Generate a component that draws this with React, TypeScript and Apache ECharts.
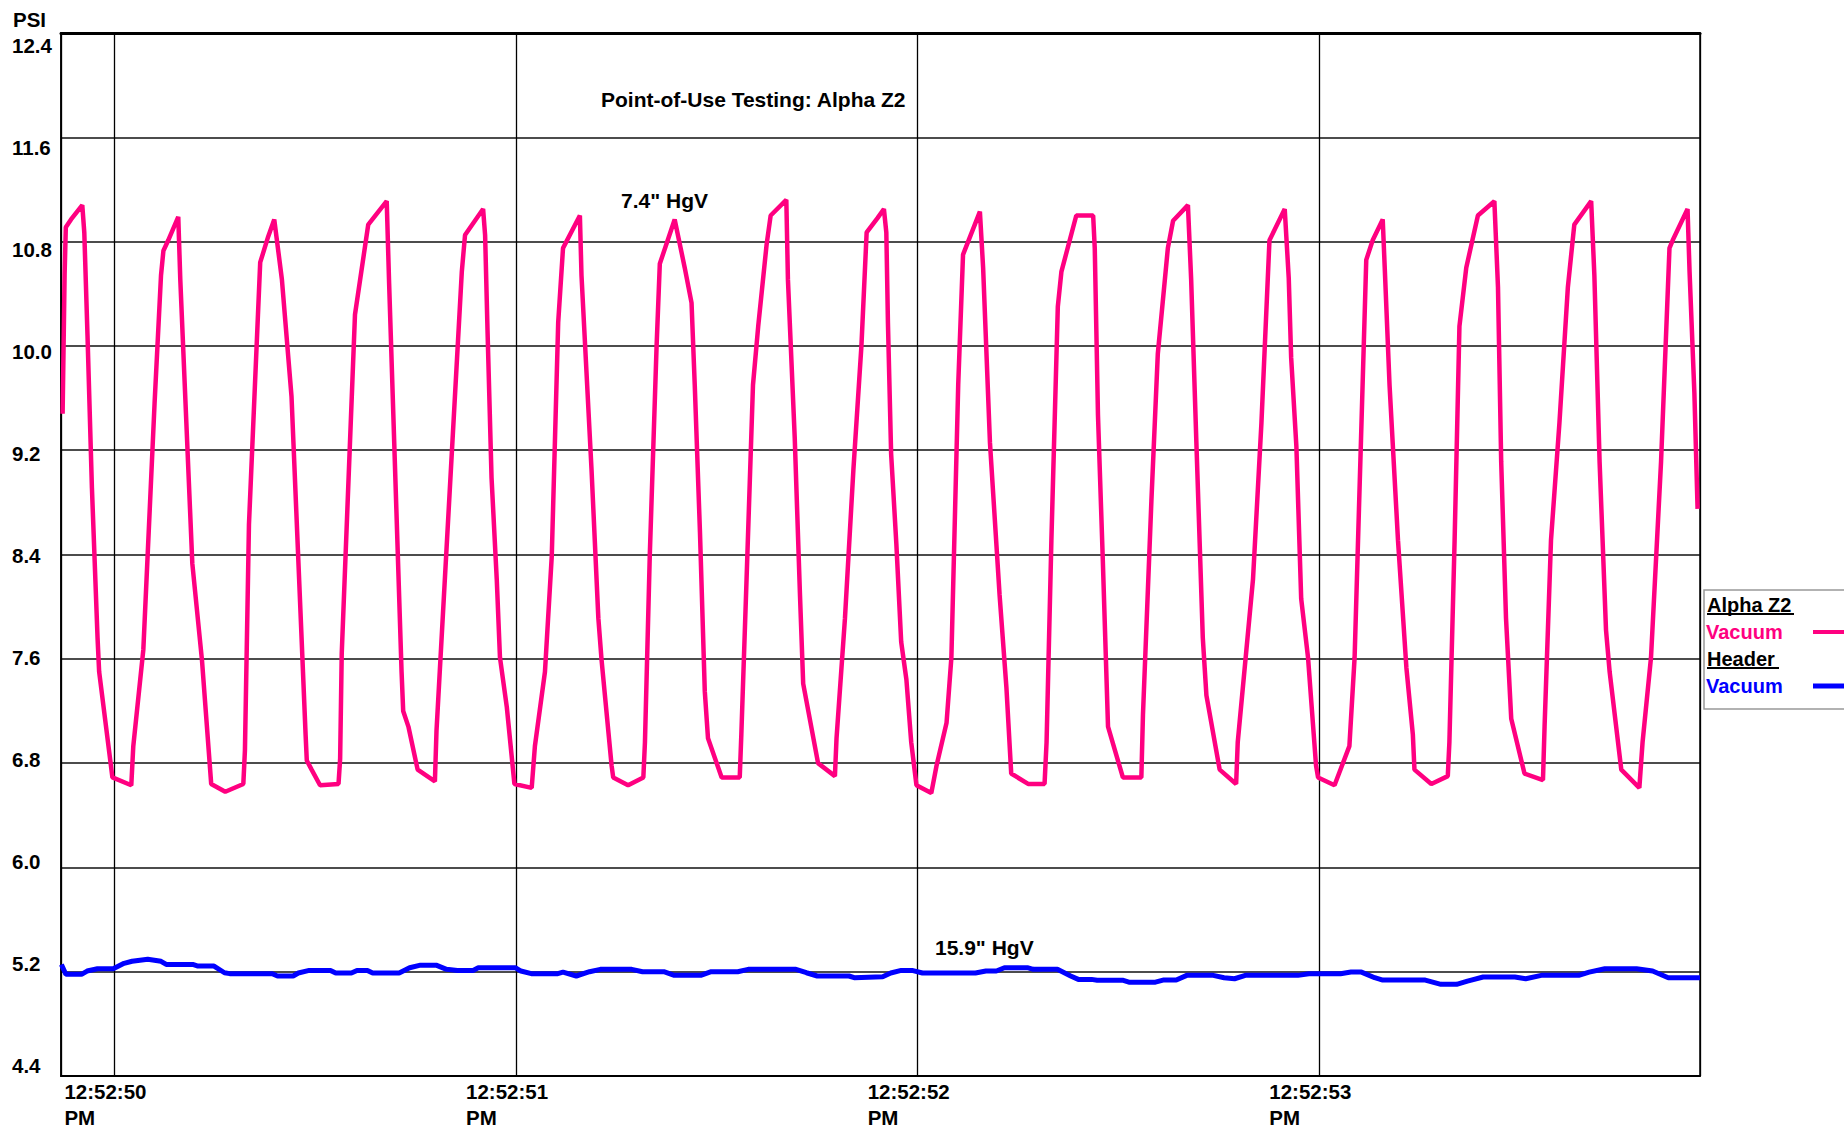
import React, { useEffect, useRef } from 'react';
import * as echarts from 'echarts';

// ---- Data ----
const yTicks = [4.4, 5.2, 6.0, 6.8, 7.6, 8.4, 9.2, 10.0, 10.8, 11.6, 12.4];
const timePrefix = '12:52:';
const timeSuffix = 'PM';
const xMin = 49.867;
const xMax = 53.948;

// Alpha Z2 Vacuum (PSI) — time in seconds after 12:52:00 PM
const alphaT = [
  49.871, 49.876, 49.879, 49.892, 49.920, 49.925, 49.933, 49.944, 49.958, 49.962, 49.995,
  50.042, 50.047, 50.072, 50.100, 50.116, 50.122, 50.134, 50.159, 50.164, 50.194, 50.218, 50.241,
  50.276, 50.321, 50.325, 50.335, 50.363, 50.383, 50.398, 50.417, 50.441, 50.476, 50.479, 50.491,
  50.512, 50.558, 50.562, 50.566, 50.599, 50.632, 50.678, 50.684, 50.715, 50.719, 50.732, 50.755,
  50.798, 50.802, 50.865, 50.873, 50.918, 50.923, 50.929, 50.939, 50.952, 50.960, 50.977, 50.996,
  51.039, 51.047, 51.072, 51.089, 51.105, 51.117, 51.159, 51.163, 51.188, 51.205, 51.213, 51.238,
  51.242, 51.279, 51.317, 51.321, 51.333, 51.350, 51.358, 51.395, 51.420, 51.437, 51.445, 51.458,
  51.470, 51.478, 51.512, 51.557, 51.561, 51.574, 51.590, 51.603, 51.624, 51.634, 51.673, 51.677,
  51.694, 51.707, 51.715, 51.752, 51.794, 51.798, 51.819, 51.840, 51.860, 51.873, 51.900, 51.916,
  51.922, 51.926, 51.934, 51.947, 51.959, 51.972, 51.984, 51.997, 52.034, 52.047, 52.072, 52.084,
  52.101, 52.113, 52.155, 52.163, 52.180, 52.204, 52.221, 52.233, 52.275, 52.316, 52.321, 52.333,
  52.349, 52.358, 52.395, 52.437, 52.441, 52.449, 52.461, 52.474, 52.511, 52.557, 52.561, 52.582,
  52.598, 52.623, 52.636, 52.673, 52.681, 52.694, 52.710, 52.719, 52.752, 52.793, 52.797, 52.835,
  52.856, 52.876, 52.914, 52.924, 52.930, 52.943, 52.955, 52.972, 52.992, 52.997, 53.038, 53.075,
  53.088, 53.104, 53.117, 53.133, 53.158, 53.163, 53.175, 53.196, 53.217, 53.233, 53.237, 53.279,
  53.320, 53.324, 53.337, 53.349, 53.366, 53.395, 53.436, 53.445, 53.453, 53.465, 53.478, 53.511,
  53.557, 53.561, 53.577, 53.598, 53.619, 53.635, 53.677, 53.685, 53.698, 53.714, 53.723, 53.752,
  53.797, 53.805, 53.826, 53.851, 53.872, 53.880, 53.917, 53.922, 53.934, 53.942,
];
const alphaV = [
  9.48, 10.55, 10.91, 10.97, 11.08, 10.87, 10.08, 8.91, 7.76, 7.50, 6.69,
  6.63, 6.93, 7.67, 9.56, 10.54, 10.73, 10.81, 10.99, 10.51, 8.33, 7.59, 6.64,
  6.58, 6.64, 6.90, 8.63, 10.64, 10.84, 10.97, 10.51, 9.61, 7.02, 6.82, 6.75,
  6.63, 6.64, 6.83, 7.64, 10.24, 10.93, 11.11, 10.48, 7.50, 7.20, 7.08, 6.75,
  6.66, 7.05, 10.57, 10.85, 11.05, 10.85, 10.12, 8.99, 8.21, 7.61, 7.23, 6.64,
  6.61, 6.93, 7.50, 8.39, 10.18, 10.75, 11.00, 10.54, 9.05, 7.91, 7.59, 6.78,
  6.69, 6.63, 6.69, 6.96, 8.39, 10.00, 10.63, 10.97, 10.60, 10.33, 9.70, 8.57,
  7.35, 6.99, 6.69, 6.69, 7.02, 8.21, 9.70, 10.15, 10.78, 11.00, 11.12, 10.51,
  9.29, 8.09, 7.41, 6.80, 6.70, 6.99, 7.91, 9.05, 10.00, 10.87, 10.98, 11.05,
  10.87, 10.18, 9.17, 8.48, 7.73, 7.44, 6.96, 6.63, 6.57, 6.78, 7.11, 7.61,
  9.70, 10.70, 11.03, 10.60, 9.26, 8.09, 7.38, 6.72, 6.64, 6.64, 6.96, 8.51,
  10.30, 10.57, 11.00, 11.00, 10.75, 9.47, 8.36, 7.08, 6.69, 6.69, 7.17, 8.81,
  9.94, 10.75, 10.96, 11.08, 10.51, 9.26, 7.76, 7.32, 6.75, 6.64, 6.96, 8.21,
  9.41, 10.81, 11.05, 10.52, 9.91, 9.23, 8.06, 7.61, 6.78, 6.69, 6.63, 6.93,
  7.61, 9.29, 10.66, 10.81, 10.97, 10.60, 9.70, 8.51, 7.53, 7.02, 6.75, 6.64,
  6.70, 6.96, 8.51, 10.15, 10.60, 11.00, 11.11, 10.45, 9.11, 7.91, 7.14, 6.72,
  6.67, 7.08, 8.51, 9.41, 10.45, 10.93, 11.11, 10.54, 9.11, 7.82, 7.50, 6.75,
  6.61, 6.96, 7.61, 9.11, 10.75, 10.81, 11.05, 10.57, 9.64, 8.75,
];

// Header Vacuum (PSI)
const headerT = [
  49.868, 49.879, 49.918, 49.932, 49.958, 49.997, 50.024, 50.044, 50.083, 50.116, 50.129,
  50.195, 50.208, 50.248, 50.274, 50.287, 50.393, 50.406, 50.445, 50.458, 50.485, 50.538,
  50.551, 50.590, 50.604, 50.630, 50.643, 50.709, 50.735, 50.762, 50.801, 50.827, 50.854,
  50.893, 50.906, 50.999, 51.012, 51.038, 51.104, 51.117, 51.150, 51.183, 51.210, 51.288,
  51.315, 51.368, 51.394, 51.460, 51.486, 51.552, 51.578, 51.697, 51.723, 51.750, 51.829,
  51.842, 51.913, 51.933, 51.959, 51.986, 52.012, 52.144, 52.170, 52.196, 52.216, 52.275,
  52.288, 52.348, 52.381, 52.400, 52.433, 52.447, 52.512, 52.526, 52.592, 52.611, 52.644,
  52.670, 52.736, 52.763, 52.789, 52.816, 52.947, 52.974, 53.053, 53.079, 53.105, 53.138,
  53.158, 53.264, 53.303, 53.342, 53.369, 53.408, 53.487, 53.514, 53.553, 53.646, 53.672,
  53.711, 53.790, 53.830, 53.869, 53.948,
];
const headerV = [
  5.256, 5.180, 5.180, 5.205, 5.223, 5.223, 5.264, 5.280, 5.295, 5.280, 5.256,
  5.256, 5.243, 5.243, 5.192, 5.185, 5.185, 5.167, 5.167, 5.190, 5.210, 5.210,
  5.190, 5.190, 5.210, 5.210, 5.190, 5.190, 5.230, 5.250, 5.250, 5.218, 5.210,
  5.210, 5.230, 5.230, 5.205, 5.185, 5.185, 5.197, 5.167, 5.200, 5.218, 5.218,
  5.200, 5.200, 5.172, 5.172, 5.200, 5.200, 5.218, 5.218, 5.192, 5.167, 5.167,
  5.154, 5.162, 5.190, 5.210, 5.210, 5.190, 5.190, 5.205, 5.205, 5.230, 5.230,
  5.218, 5.218, 5.167, 5.141, 5.141, 5.134, 5.134, 5.120, 5.120, 5.136, 5.136,
  5.172, 5.172, 5.154, 5.146, 5.172, 5.172, 5.185, 5.185, 5.197, 5.197, 5.154,
  5.136, 5.136, 5.103, 5.103, 5.128, 5.159, 5.159, 5.146, 5.172, 5.172, 5.197,
  5.223, 5.223, 5.205, 5.154, 5.154,
];

const PINK = '#FF0080';
const BLUE = '#0000FF';
const FONT = '"Liberation Sans", Arial, Helvetica, sans-serif';

export default function App() {
  const ref = useRef<HTMLDivElement>(null);

  useEffect(() => {
    if (!ref.current) return;
    const chart = echarts.init(ref.current, null, { renderer: 'svg' });

    const txt = (text: string, x: number, y: number, fill = '#000', size = 21) => ({
      type: 'text',
      silent: true,
      style: {
        text, x, y, fill,
        fontSize: size, fontWeight: 'bold', fontFamily: FONT,
        align: 'left', verticalAlign: 'middle',
      },
    });
    const seg = (x1: number, y1: number, x2: number, y2: number, stroke: string, w: number) => ({
      type: 'line',
      silent: true,
      shape: { x1, y1, x2, y2 },
      style: { stroke, lineWidth: w },
    });

    const option: any = {
      animation: false,
      backgroundColor: '#ffffff',
      grid: {
        left: 61, top: 33, width: 1639, height: 1043,
        show: true, borderColor: '#000', borderWidth: 1.5,
        containLabel: false,
      },
      xAxis: [
        {
          type: 'value', min: xMin, max: xMax, splitNumber: 4, minInterval: 1, maxInterval: 1,
          axisLine: { show: true, onZero: false, lineStyle: { color: '#000', width: 2 } },
          axisTick: { show: false },
          splitLine: { show: true, lineStyle: { color: '#000', width: 1.3 } },
          axisLabel: {
            margin: 2,
            formatter: (v: number) => {
              const s = Math.round(v);
              if (Math.abs(v - s) > 1e-6) return '';
              return `{a|${timePrefix}${s}}\n{a|${timeSuffix}}`;
            },
            rich: {
              a: {
                width: 100, align: 'left', lineHeight: 26,
                fontSize: 20.5, fontWeight: 'bold', fontFamily: FONT, color: '#000',
              },
            },
          },
        },
        {
          type: 'value', position: 'top', min: xMin, max: xMax,
          axisLine: { show: true, onZero: false, lineStyle: { color: '#000', width: 3 } },
          axisTick: { show: false }, axisLabel: { show: false }, splitLine: { show: false },
        },
      ],
      yAxis: [
        {
          type: 'value', min: 4.4, max: 12.4, interval: 0.8,
          axisLine: { show: true, onZero: false, lineStyle: { color: '#000', width: 1.5 } },
          axisTick: { show: false },
          axisLabel: { show: false },
          splitLine: { show: true, lineStyle: { color: '#111', width: 1.6 } },
        },
        {
          type: 'value', position: 'left', min: 4.314, max: 12.498,
          axisLine: { show: false }, axisTick: { show: false }, splitLine: { show: false },
          axisLabel: {
            customValues: yTicks,
            formatter: (v: number) => v.toFixed(1),
            align: 'left', margin: 49,
            fontSize: 20.5, fontWeight: 'bold', fontFamily: FONT, color: '#000',
          },
        },
      ],
      series: [
        {
          name: 'Alpha Z2 Vacuum', type: 'line', xAxisIndex: 0, yAxisIndex: 0,
          data: alphaT.map((t, i) => [t, alphaV[i]]),
          showSymbol: false, symbol: 'none',
          lineStyle: { color: PINK, width: 4.5 },
          z: 3,
        },
        {
          name: 'Header Vacuum', type: 'line', xAxisIndex: 0, yAxisIndex: 0,
          data: headerT.map((t, i) => [t, headerV[i]]),
          showSymbol: false, symbol: 'none',
          lineStyle: { color: BLUE, width: 5 },
          z: 4,
        },
      ],
      graphic: [
        txt('PSI', 13, 19, '#000', 20.5),
        txt('Point-of-Use Testing: Alpha Z2', 601, 99),
        txt('7.4" HgV', 621, 200),
        txt('15.9" HgV', 935, 947),
        {
          type: 'rect', silent: true,
          shape: { x: 1704, y: 590, width: 200, height: 119 },
          style: { fill: '#fff', stroke: '#999', lineWidth: 1.5 },
        },
        txt('Alpha Z2', 1707, 605, '#000', 20),
        seg(1707, 614, 1794, 614, '#000', 2),
        txt('Vacuum', 1706, 632, PINK, 20),
        seg(1813, 632, 1850, 632, PINK, 4),
        txt('Header', 1707, 659, '#000', 20),
        seg(1707, 668, 1779, 668, '#000', 2),
        txt('Vacuum', 1706, 686, BLUE, 20),
        seg(1813, 686, 1850, 686, BLUE, 5),
      ],
    };

    chart.setOption(option);
    return () => chart.dispose();
  }, []);

  return (
    <div
      ref={ref}
      style={{ position: 'absolute', left: 0, top: 0, width: 1844, height: 1131, background: '#fff' }}
    />
  );
}
